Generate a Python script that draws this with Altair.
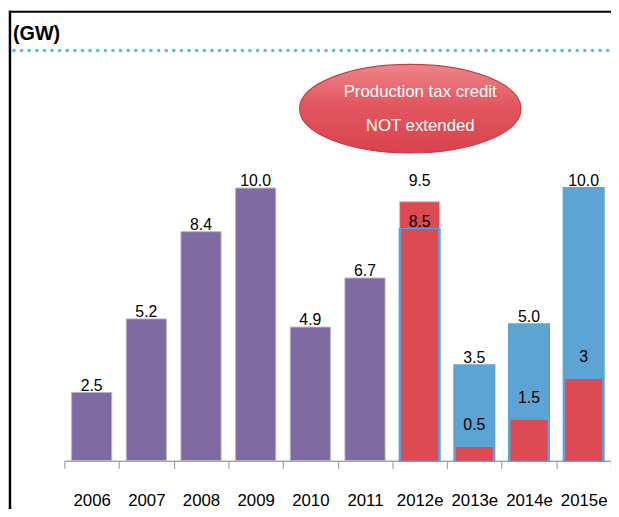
import altair as alt
import pandas as pd

# ---- data ----
years = ["2006", "2007", "2008", "2009", "2010", "2011", "2012e", "2013e", "2014e", "2015e"]
actual_years = ["2006", "2007", "2008", "2009", "2010", "2011"]
actual_values = [2.5, 5.2, 8.4, 10.0, 4.9, 6.7]
forecast_years = ["2012e", "2013e", "2014e", "2015e"]
forecast_totals = [8.5, 3.5, 5.0, 10.0]
forecast_red = [8.5, 0.5, 1.5, 3.0]
forecast_red_labels = ["", "0.5", "1.5", "3"]
extra_year = ["2012e"]
extra_low = [8.5]
extra_high = [9.5]
extra_label = ["9.5"]
title_text = ["(GW)"]
callout_line1 = ["Production tax credit"]
callout_line2 = ["NOT extended"]

FONT = "Liberation Sans, Arial, sans-serif"
PURPLE = "#7F6BA1"
RED = "#DC4B53"
BLUE = "#5DA3D4"
GRAY = "#A6A6A6"

actual_df = pd.DataFrame({"year": actual_years, "v": actual_values,
                          "lab": [f"{v:.1f}" for v in actual_values]})
fc_df = pd.DataFrame({"year": forecast_years, "total": forecast_totals,
                      "red": forecast_red, "redlab": forecast_red_labels,
                      "lab": [f"{v:.1f}" for v in forecast_totals]})
extra_df = pd.DataFrame({"year": extra_year, "lo": extra_low, "hi": extra_high,
                         "lab": extra_label})

xscale = alt.Scale(domain=years, paddingInner=0, paddingOuter=0)
yscale = alt.Scale(domain=[0, 16.5], nice=False, zero=True)

BAR_W = 0.734
INNER_W = 0.675

xaxis = alt.Axis(title=None, labelAngle=0, tickBand="extent", grid=False,
                 domainColor=GRAY, domainWidth=1.5, tickColor=GRAY, tickWidth=1.2,
                 tickSize=8, labelFont=FONT, labelFontSize=17, labelColor="black",
                 labelPadding=24)

def X():
    return alt.X("year:N", sort=years, scale=xscale, axis=xaxis, title=None)

def Y(field):
    return alt.Y(field, scale=yscale, axis=None)

purple_bars = alt.Chart(actual_df).mark_bar(
    color=PURPLE, stroke="#B9B3C6", strokeWidth=1, width=alt.RelativeBandSize(BAR_W)).encode(
    x=X(), y=Y("v:Q"))

extra_bar = alt.Chart(extra_df).mark_bar(
    color=RED, stroke="#CFC6C8", strokeWidth=1, width=alt.RelativeBandSize(BAR_W)).encode(
    x=X(), y=Y("lo:Q"), y2="hi:Q")

blue_bars = alt.Chart(fc_df).mark_bar(
    color=BLUE, stroke=BLUE, strokeWidth=2, width=alt.RelativeBandSize(BAR_W)).encode(
    x=X(), y=Y("total:Q"))

red_bars = alt.Chart(fc_df).mark_bar(color=RED, width=alt.RelativeBandSize(INNER_W)).encode(
    x=X(), y=Y("red:Q"))

txt = dict(font=FONT, fontSize=16, color="black")

actual_labels = alt.Chart(actual_df).mark_text(baseline="alphabetic", dy=-2, **txt).encode(
    x=X(), y=Y("v:Q"), text="lab:N")

fc_labels = alt.Chart(fc_df).mark_text(baseline="alphabetic", dy=-2, **txt).encode(
    x=X(), y=Y("total:Q"), text="lab:N")

extra_labels = alt.Chart(extra_df).mark_text(baseline="alphabetic", dy=-16, **txt).encode(
    x=X(), y=Y("hi:Q"), text="lab:N")

red_labels = alt.Chart(fc_df).mark_text(baseline="middle", dy=-22, **txt).encode(
    x=X(), y=Y("red:Q"), text="redlab:N")

one = pd.DataFrame({"k": [0]})

left_border = alt.Chart(one).mark_rule(color="black", strokeWidth=2.5).encode(
    x=alt.value(-55), y=alt.value(0), y2=alt.value(505))
top_border = alt.Chart(one).mark_rule(color="black", strokeWidth=2).encode(
    x=alt.value(-56), x2=alt.value(560), y=alt.value(1))
dots = alt.Chart(one).mark_rule(color="#50C0EA", strokeWidth=3.6, strokeCap="round",
                                strokeDash=[0.1, 7.6]).encode(
    x=alt.value(-51), x2=alt.value(556), y=alt.value(40))

title = alt.Chart(pd.DataFrame({"t": title_text})).mark_text(
    font=FONT, fontSize=20, fontWeight="bold", align="left", baseline="alphabetic",
    color="black").encode(x=alt.value(-52), y=alt.value(29), text="t:N")

ellipse_path = "M -1 0 A 1 0.4 0 1 0 1 0 A 1 0.4 0 1 0 -1 0 Z"
grad = alt.LinearGradient(gradient="linear", x1=0, x2=0, y1=0, y2=1, stops=[
    alt.GradientStop(color="#EF858B", offset=0),
    alt.GradientStop(color="#E35760", offset=0.45),
    alt.GradientStop(color="#D8434C", offset=1)])
ellipse = alt.Chart(one).mark_point(shape=ellipse_path, size=224 * 224, filled=True,
                                    fill=grad, opacity=1, stroke="#C23E47", strokeWidth=1.2).encode(
    x=alt.value(350), y=alt.value(99))

callout1 = alt.Chart(pd.DataFrame({"t": callout_line1})).mark_text(
    font=FONT, fontSize=17, color="white", baseline="middle").encode(
    x=alt.value(360), y=alt.value(82), text="t:N")
callout2 = alt.Chart(pd.DataFrame({"t": callout_line2})).mark_text(
    font=FONT, fontSize=17, color="white", baseline="middle").encode(
    x=alt.value(360), y=alt.value(117), text="t:N")

chart = alt.layer(
    purple_bars, extra_bar, blue_bars, red_bars,
    actual_labels, fc_labels, extra_labels, red_labels,
    left_border, top_border, dots, title,
    ellipse, callout1, callout2,
).properties(
    width=553, height=455, autosize="none",
    padding={"left": 57, "top": 0, "right": 0, "bottom": 46},
).configure_view(strokeWidth=0)

chart.save("out.html", embed_options={"renderer": "svg", "actions": False})
